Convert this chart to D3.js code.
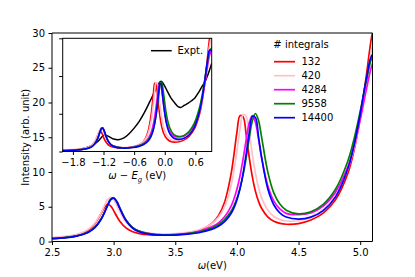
<!DOCTYPE html>
<html><head><meta charset="utf-8">
<script src="https://cdn.jsdelivr.net/npm/d3@7"></script>
<style>body{margin:0;background:#fff} svg{display:block} text{font-family:"DejaVu Sans",sans-serif;fill:#000}</style>
</head><body><svg id="c" width="415" height="277"></svg>
<script>
// ---- data ----
const omega = [2.2,2.3,2.4,2.5,2.6,2.7,2.75,2.8,2.85,2.9,2.925,2.95,2.975,3.0,3.025,3.05,3.1,3.15,3.2,3.3,3.4,3.5,3.6,3.7,3.8,3.85,3.9,3.95,3.975,4.0,4.025,4.05,4.075,4.1,4.125,4.15,4.175,4.2,4.25,4.3,4.35,4.4,4.5,4.6,4.7,4.8,4.9,4.95,5.0,5.05,5.1,5.15];
const s132   = [0.34,0.37,0.42,0.50,0.64,0.93,1.22,1.70,2.60,4.09,4.89,5.34,5.14,4.45,3.63,2.92,1.96,1.44,1.17,0.95,0.92,1.00,1.22,1.64,2.65,3.71,5.65,9.44,12.36,15.69,18.10,17.94,15.37,12.10,9.33,7.25,5.80,4.78,3.55,2.91,2.60,2.48,2.58,3.09,4.09,6.00,9.80,13.08,17.70,23.85,30.10,33.0];
const s420   = [0.40,0.44,0.50,0.57,0.73,1.05,1.34,1.84,2.70,4.20,5.15,5.99,6.35,6.00,5.19,4.26,2.81,1.99,1.54,1.16,1.07,1.13,1.33,1.73,2.61,3.48,5.00,7.85,10.14,13.00,16.13,18.26,18.00,15.64,12.57,9.86,7.81,6.31,4.53,3.60,3.15,2.95,2.99,3.51,4.58,6.60,10.44,13.42,17.59,22.87,28.16,31.2];
const s4284  = [0.24,0.28,0.33,0.43,0.56,0.82,1.05,1.43,2.09,3.29,4.18,5.19,6.04,6.29,5.78,4.83,3.08,2.06,1.53,1.09,0.95,1.00,1.17,1.50,2.14,2.69,3.55,4.98,6.07,7.51,9.43,11.84,14.62,17.08,18.13,17.17,14.81,12.11,8.05,5.80,4.65,4.05,3.85,4.12,5.10,7.10,10.79,13.76,17.51,21.81,25.59,27.2];
const s9558  = [0.24,0.28,0.34,0.43,0.57,0.82,1.05,1.44,2.09,3.30,4.19,5.20,6.05,6.30,5.78,4.83,3.09,2.07,1.54,1.09,0.94,0.99,1.14,1.44,1.99,2.45,3.15,4.27,5.10,6.19,7.66,9.59,12.05,14.86,17.35,18.42,17.45,15.06,10.05,6.95,5.35,4.50,3.97,4.28,5.35,7.52,11.59,14.73,18.71,23.09,26.64,27.6];
const s14400 = [0.22,0.25,0.30,0.40,0.53,0.78,1.01,1.38,2.03,3.24,4.12,5.13,5.98,6.23,5.71,4.76,3.01,1.98,1.44,1.02,0.91,0.93,1.05,1.29,1.78,2.19,2.85,3.95,4.81,5.98,7.57,9.76,12.56,15.59,18.00,17.85,15.10,12.14,7.62,5.25,4.10,3.52,3.22,3.50,4.45,6.42,10.46,13.83,18.31,23.39,26.88,26.5];
const seriesNames  = ["132","420","4284","9558","14400"];
const seriesValues = [s132,s420,s4284,s9558,s14400];
const seriesColors = ["#ff0000","#ffc0cb","#ff00ff","#008000","#0000ff"];
const xTicks = [2.5,3.0,3.5,4.0,4.5,5.0];
const yTicks = [0,5,10,15,20,25,30];

// inset
const EG = 4.22;          // band gap shift
const INSET_SCALE = 0.1;  // inset intensity scale
const exptX = [-2.0,-1.9,-1.8,-1.7,-1.6,-1.5,-1.4,-1.3,-1.25,-1.18,-1.1,-1.0,-0.91,-0.8,-0.7,-0.6,-0.5,-0.4,-0.3,-0.2,-0.12,-0.07,-0.02,0.05,0.12,0.2,0.26,0.32,0.38,0.46,0.52,0.59,0.66,0.72,0.79,0.85,0.92];
const exptY = [0.0,0.01,0.03,0.05,0.08,0.12,0.18,0.28,0.36,0.44,0.40,0.33,0.31,0.36,0.47,0.62,0.80,1.03,1.30,1.58,1.80,1.86,1.78,1.60,1.42,1.28,1.19,1.17,1.22,1.28,1.34,1.42,1.56,1.70,1.85,2.05,2.33];
const insetXTicks = [-1.8,-1.2,-0.6,0.0,0.6];
const insetYTicks = [0,1,2,3];

// ---- layout ----
const svg = d3.select("#c");
const M = {l:52, r:372.5, t:33, b:241.5};
const x = d3.scaleLinear().domain([2.5,5.1]).range([M.l,M.r]);
const y = d3.scaleLinear().domain([0,30]).range([M.b,M.t]);
const I = {l:62.7, r:211.7, t:38.3, b:151.5};
const xi = d3.scaleLinear().domain([-2.0,0.92]).range([I.l,I.r]);
const yi = d3.scaleLinear().domain([0,3]).range([I.b,I.t]);

const defs = svg.append("defs");
defs.append("clipPath").attr("id","mclip").append("rect")
  .attr("x",M.l).attr("y",M.t).attr("width",M.r-M.l).attr("height",M.b-M.t);
defs.append("clipPath").attr("id","iclip").append("rect")
  .attr("x",I.l).attr("y",I.t).attr("width",I.r-I.l).attr("height",I.b-I.t);

const curve = d3.curveCatmullRom.alpha(0.5);

// main lines
const gm = svg.append("g").attr("clip-path","url(#mclip)");
seriesValues.forEach((vals,k)=>{
  const line = d3.line().curve(curve).x((d,i)=>x(omega[i])).y(d=>y(d));
  gm.append("path").attr("d",line(vals)).attr("fill","none")
    .attr("stroke",seriesColors[k]).attr("stroke-width",1.7);
});

// main axes
const fs = 10;
const ax = svg.append("g").attr("transform",`translate(0,${M.b})`)
  .call(d3.axisBottom(x).tickValues(xTicks).tickFormat(d3.format(".1f")).tickSize(3.5).tickPadding(3.5));
const ay = svg.append("g").attr("transform",`translate(${M.l},0)`)
  .call(d3.axisLeft(y).tickValues(yTicks).tickFormat(d3.format("d")).tickSize(3.5).tickPadding(3.5));
[ax,ay].forEach(g=>{g.select(".domain").remove(); g.selectAll("text").attr("font-size",fs).attr("font-family","DejaVu Sans");});

// spines
const sp = svg.append("g").attr("stroke","#000").attr("stroke-width",1).attr("fill","none");
sp.append("line").attr("x1",M.l).attr("x2",M.r).attr("y1",M.t).attr("y2",M.t);
sp.append("line").attr("x1",M.l).attr("x2",M.l).attr("y1",M.t).attr("y2",M.b);
sp.append("line").attr("x1",M.r).attr("x2",M.r).attr("y1",M.t).attr("y2",M.b);
sp.append("line").attr("x1",M.l).attr("x2",M.r).attr("y1",M.b).attr("y2",M.b);

// labels
svg.append("text").attr("x",(M.l+M.r)/2).attr("y",269).attr("text-anchor","middle").attr("font-size",fs)
  .html('<tspan font-style="italic">ω</tspan>(eV)');
svg.append("text").attr("transform",`translate(29,${(M.t+M.b)/2}) rotate(-90)`).attr("text-anchor","middle").attr("font-size",fs)
  .text("Intensity (arb. unit)");

// legend
const lg = svg.append("g");
lg.append("text").attr("x",301).attr("y",47.5).attr("text-anchor","middle").attr("font-size",fs).text("# integrals");
seriesNames.forEach((n,k)=>{
  const yy = 61.7 + k*14;
  lg.append("line").attr("x1",274).attr("x2",295).attr("y1",yy).attr("y2",yy).attr("stroke",seriesColors[k]).attr("stroke-width",1.7);
  lg.append("text").attr("x",301.5).attr("y",yy+3.6).attr("font-size",fs).text(n);
});

// inset
svg.append("rect").attr("x",I.l).attr("y",I.t).attr("width",I.r-I.l).attr("height",I.b-I.t).attr("fill","#fff");
const gi = svg.append("g").attr("clip-path","url(#iclip)");
gi.append("path").attr("d", d3.line().curve(curve).x((d,i)=>xi(exptX[i])).y(d=>yi(d))(exptY))
  .attr("fill","none").attr("stroke","#000").attr("stroke-width",1.5);
seriesValues.forEach((vals,k)=>{
  const line = d3.line().curve(curve).x((d,i)=>xi(omega[i]-EG)).y(d=>yi(d*INSET_SCALE));
  gi.append("path").attr("d",line(vals)).attr("fill","none")
    .attr("stroke",seriesColors[k]).attr("stroke-width",1.6);
});
const axi = svg.append("g").attr("transform",`translate(0,${I.b})`)
  .call(d3.axisBottom(xi).tickValues(insetXTicks).tickFormat(d3.format(".1f")).tickSize(3.5).tickPadding(3.5));
const ayi = svg.append("g").attr("transform",`translate(${I.l},0)`)
  .call(d3.axisLeft(yi).tickValues(insetYTicks).tickFormat("").tickSize(3.5));
[axi,ayi].forEach(g=>{g.select(".domain").remove(); g.selectAll("text").attr("font-size",fs).attr("font-family","DejaVu Sans");});
svg.append("rect").attr("x",I.l).attr("y",I.t).attr("width",I.r-I.l).attr("height",I.b-I.t)
  .attr("fill","none").attr("stroke","#000").attr("stroke-width",1);
svg.append("text").attr("x",(I.l+I.r)/2).attr("y",179).attr("text-anchor","middle").attr("font-size",fs)
  .html('<tspan font-style="italic">ω</tspan> − <tspan font-style="italic">E</tspan><tspan font-style="italic" font-size="7" dy="2.5">g</tspan><tspan dy="-2.5"> (eV)</tspan>');
// inset legend
svg.append("line").attr("x1",151).attr("x2",171.7).attr("y1",50.7).attr("y2",50.7).attr("stroke","#000").attr("stroke-width",1.5);
svg.append("text").attr("x",177.5).attr("y",54.3).attr("font-size",fs).text("Expt.");
</script></body></html>
